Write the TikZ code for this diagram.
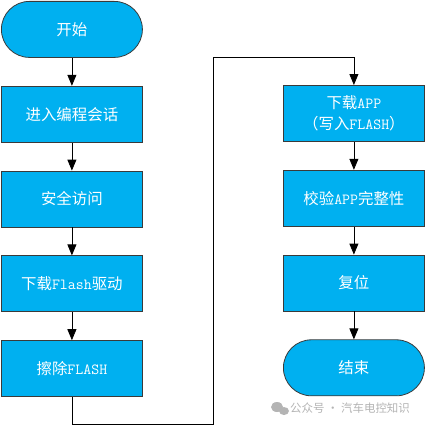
\documentclass[tikz,border=0pt]{standalone}
\usepackage{fontspec}
\setmainfont{Noto Sans CJK SC}
\usetikzlibrary{arrows.meta, positioning, calc}
\definecolor{boxblue}{HTML}{00B0F0}
\definecolor{edgegray}{HTML}{3A3A3A}
\definecolor{markgray}{HTML}{B4B4B4}

\begin{document}
\begin{tikzpicture}[
    >={Triangle[length=11bp, width=9bp]},
    node distance=28bp,
    proc/.style={draw=edgegray, line width=0.8bp, fill=boxblue, minimum width=141bp, minimum height=56bp, inner sep=0pt, text=white, align=center, font=\fontsize{15.5}{21}\selectfont},
    term/.style={proc, rounded corners=28bp},
    flow/.style={->, line width=0.8bp, black},
]
\useasboundingbox (0,0) rectangle (425bp,-425bp);

% === LEFT COLUMN ===
\node[term, anchor=north west] (start) at (1bp,-1bp) {开始};
\node[proc, below=of start] (session) {进入编程会话};
\node[proc, below=of session] (access) {安全访问};
\node[proc, below=of access] (driver) {下载\texttt{Flash}驱动};
\node[proc, below=of driver] (erase) {擦除\texttt{FLASH}};

\draw[flow] (start) -- (session);
\draw[flow] (session) -- (access);
\draw[flow] (access) -- (driver);
\draw[flow] (driver) -- (erase);

% === RIGHT COLUMN ===
\node[proc, anchor=north west] (download) at (283bp,-85bp) {下载\texttt{APP}\\（写入\texttt{FLASH}）};
\node[proc, below=of download] (verify) {校验\texttt{APP}完整性};
\node[proc, below=of verify] (reset) {复位};
\node[term, below=of reset] (finish) {结束};

\draw[flow] (download) -- (verify);
\draw[flow] (verify) -- (reset);
\draw[flow] (reset) -- (finish);

% === CROSS-OVER CONNECTOR ===
\coordinate (lowturn) at ($(erase.south)+(0,-27bp)$);
\coordinate (highturn) at (start.south -| download.north);
\draw[flow] (erase.south) -- (lowturn) -- ++(141bp,0) |- (highturn) -- (download.north);

% === WATERMARK ===
\fill[markgray] (277bp,-407bp) ellipse (6bp and 5bp);
\fill[markgray] (284bp,-411bp) ellipse (5bp and 4bp);
\node[anchor=west, inner sep=0pt, text=markgray, font=\fontsize{11.5}{13}\selectfont] (mark) at (290bp,-408bp) {公众号 · 汽车电控知识};

\end{tikzpicture}
\end{document}
